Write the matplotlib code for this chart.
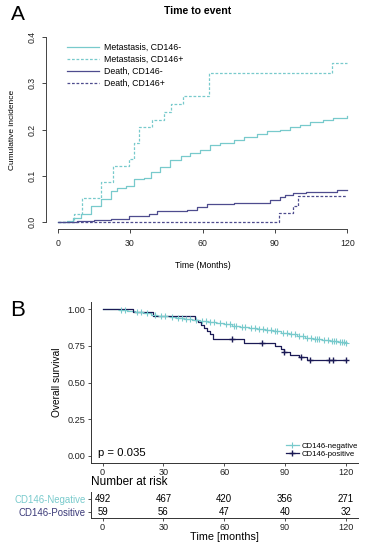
import numpy as np
import matplotlib
matplotlib.use("Agg")
import matplotlib.pyplot as plt
from matplotlib.lines import Line2D

plt.rcParams["font.family"] = ["Liberation Sans", "DejaVu Sans"]

TEAL = "#78CACC"
NAVY_A = "#4E4C8E"
NAVY_B = "#1B1A55"

# ---- Panel A: cumulative incidence (competing risks) ----
met_neg_t = [0, 4.1, 6.2, 9.6, 13.7, 17.9, 22.0, 24.7, 28.2, 31.6, 35.7, 38.5, 42.6, 46.7,
             50.9, 55.0, 59.1, 63.2, 67.4, 72.9, 77.0, 82.5, 86.6, 92.1, 96.2, 100.3,
             104.5, 110.0, 114.1, 120]
met_neg_v = [0, 0.002, 0.008, 0.017, 0.035, 0.05, 0.066, 0.072, 0.078, 0.093, 0.095, 0.108,
             0.119, 0.133, 0.142, 0.149, 0.156, 0.166, 0.17, 0.177, 0.184, 0.191, 0.197,
             0.2, 0.206, 0.21, 0.217, 0.22, 0.224, 0.23]

met_pos_t = [0, 6.9, 10.0, 17.9, 23.0, 29.6, 31.6, 33.7, 39.2, 44.0, 47.0, 51.8, 62.8, 113.7, 120]
met_pos_v = [0, 0.017, 0.052, 0.085, 0.12, 0.135, 0.17, 0.205, 0.22, 0.237, 0.255, 0.272,
             0.322, 0.344, 0.344]

death_neg_t = [0, 8, 15, 22, 29.6, 37.8, 41, 53.6, 57.7, 61.9, 72.9, 88, 92, 94.2, 97.6, 103, 115.5, 120]
death_neg_v = [0, 0.001, 0.003, 0.006, 0.012, 0.016, 0.023, 0.025, 0.031, 0.039, 0.041, 0.046,
               0.053, 0.057, 0.062, 0.064, 0.068, 0.068]

death_pos_t = [0, 91.8, 97.6, 99.7, 120]
death_pos_v = [0, 0.018, 0.035, 0.056, 0.056]

a_xticks = [0, 30, 60, 90, 120]
a_yticks = [0.0, 0.1, 0.2, 0.3, 0.4]

# ---- Panel B: Kaplan-Meier overall survival ----
neg_t = [0, 8, 12, 16, 20, 24, 27, 30, 33, 36, 40, 44, 48, 52, 56, 60, 64, 68, 72, 76, 80,
         84, 88, 92, 96, 100, 104, 108, 112, 116, 120]
neg_s = [1.0, 0.994, 0.988, 0.98, 0.972, 0.963, 0.957, 0.952, 0.946, 0.942, 0.936, 0.93,
         0.921, 0.916, 0.909, 0.9, 0.888, 0.878, 0.872, 0.864, 0.857, 0.85, 0.841, 0.829,
         0.816, 0.806, 0.798, 0.792, 0.784, 0.775, 0.767]
neg_cens = [9, 11, 17, 19, 22, 26, 29, 31, 34, 37, 39, 41, 43, 46, 49, 51, 53, 55, 58, 61,
            63, 65, 66, 69, 70, 73, 75, 77, 79, 81, 83, 85, 86, 89, 91, 93, 95, 97, 99, 101,
            103, 105, 106, 107, 109, 111, 113, 114, 115, 117, 118, 119, 120]

pos_t = [0, 15, 25, 45.5, 47, 48.5, 50, 51.5, 53, 54.5, 69.5, 85, 88, 89.5, 92.5, 97, 101, 120]
pos_s = [1.0, 0.982, 0.954, 0.93, 0.91, 0.89, 0.87, 0.85, 0.83, 0.80, 0.77, 0.748, 0.73,
         0.71, 0.69, 0.672, 0.655, 0.655]
pos_cens = [64, 78.5, 89.5, 98, 102.5, 111.5, 113.5, 120]

b_xticks = [0, 30, 60, 90, 120]
b_yticks = [0.0, 0.25, 0.5, 0.75, 1.0]
risk_neg = [492, 467, 420, 356, 271]
risk_pos = [59, 56, 47, 40, 32]

W, H = 365, 550


def fx(x):
    return x / W


def fy(y):
    return 1 - y / H


def step_at(ts, ss, c):
    i = np.searchsorted(ts, c, side="right") - 1
    return np.asarray(ss)[i]


fig = plt.figure(figsize=(W / 100, H / 100), dpi=100)
fig.patch.set_facecolor("white")

# ---------------- Panel A ----------------
axA = fig.add_axes([fx(46), fy(229), fx(359) - fx(46), (229 - 30) / H])
axA.step(met_neg_t, met_neg_v, where="post", color=TEAL, lw=0.9)
axA.step(met_pos_t, met_pos_v, where="post", color=TEAL, lw=0.9, dashes=(2.2, 1.4))
axA.step(death_neg_t, death_neg_v, where="post", color=NAVY_A, lw=0.9)
axA.step(death_pos_t, death_pos_v, where="post", color=NAVY_A, lw=0.9, dashes=(2.2, 1.4))
axA.set_xlim(-4.8, 124.8)
axA.set_ylim(-0.016, 0.416)
axA.spines["top"].set_visible(False)
axA.spines["right"].set_visible(False)
for s in ("left", "bottom"):
    axA.spines[s].set_color("#444444")
    axA.spines[s].set_linewidth(0.7)
axA.spines["bottom"].set_bounds(0, 120)
axA.spines["left"].set_bounds(0, 0.4)
axA.set_xticks(a_xticks)
axA.set_yticks(a_yticks)
axA.set_yticklabels([f"{v:.1f}" for v in a_yticks], rotation=90, va="center")
axA.tick_params(length=2.9, width=0.7, color="#444444", labelsize=6.3, pad=4.5,
                labelcolor="#222222")
axA.tick_params(axis="y", pad=4)

handles = [
    Line2D([], [], color=TEAL, lw=0.9),
    Line2D([], [], color=TEAL, lw=0.9, dashes=(2.2, 1.4)),
    Line2D([], [], color=NAVY_A, lw=0.9),
    Line2D([], [], color=NAVY_A, lw=0.9, dashes=(2.2, 1.4)),
]
labels = ["Metastasis, CD146-", "Metastasis, CD146+", "Death, CD146-", "Death, CD146+"]
axA.legend(handles, labels, loc="upper left",
           bbox_to_anchor=((67 - 46) / (359 - 46), 1 - (43 - 30) / 199),
           frameon=False, fontsize=6.3, handlelength=3.6, handletextpad=0.6,
           labelspacing=0.35, borderaxespad=0, borderpad=0)

fig.text(fx(198), fy(11), "Time to event", ha="center", va="center",
         fontsize=7.6, fontweight="bold")
fig.text(fx(18), fy(15), "A", ha="center", va="center", fontsize=15)
fig.text(fx(203), fy(265), "Time (Months)", ha="center", va="center", fontsize=6.2)
fig.text(fx(13), fy(130), "Cumulative incidence", ha="center", va="center",
         rotation=90, fontsize=6.0)

# ---------------- Panel B ----------------
fig.text(fx(18), fy(310), "B", ha="center", va="center", fontsize=16)
axB = fig.add_axes([fx(90.5), fy(463), fx(358) - fx(90.5), (463 - 302) / H])
axB.step(neg_t, neg_s, where="post", color=TEAL, lw=0.9)
axB.step(pos_t, pos_s, where="post", color=NAVY_B, lw=0.9)
axB.plot(neg_cens, [step_at(neg_t, neg_s, c) for c in neg_cens], ls="none",
         marker="+", ms=4, mew=0.8, color=TEAL)
axB.plot(pos_cens, [step_at(pos_t, pos_s, c) for c in pos_cens], ls="none",
         marker="+", ms=5, mew=1.0, color=NAVY_B)
axB.set_xlim(-6, 126)
axB.set_ylim(-0.05, 1.05)
axB.spines["top"].set_visible(False)
axB.spines["right"].set_visible(False)
for s in ("left", "bottom"):
    axB.spines[s].set_color("#333333")
    axB.spines[s].set_linewidth(0.7)
axB.set_xticks(b_xticks)
axB.set_yticks(b_yticks)
axB.set_yticklabels([f"{v:.2f}" for v in b_yticks])
axB.tick_params(length=2, width=0.6, color="#333333", labelsize=6.6, pad=1.5,
                labelcolor="#222222")
axB.set_ylabel("Overall survival", fontsize=7.3, labelpad=4)
axB.text(-2.5, 0.02, "p = 0.035", fontsize=8.2, ha="left", va="center")

legB = [
    Line2D([], [], color=TEAL, lw=0.9, marker="+", ms=4, mew=0.8),
    Line2D([], [], color=NAVY_B, lw=0.9, marker="+", ms=4, mew=1.0),
]
axB.legend(legB, ["CD146-negative", "CD146-positive"], loc="lower right",
           bbox_to_anchor=(1.0, 0.03), frameon=False, fontsize=5.6,
           handlelength=1.6, handletextpad=0.4, labelspacing=0.15,
           borderaxespad=0, borderpad=0)

# ---------------- Risk table ----------------
fig.text(fx(90.7), fy(482), "Number at risk", ha="left", va="center", fontsize=8.5)
axR = fig.add_axes([fx(90.5), fy(518.3), fx(358) - fx(90.5), (518.3 - 491.7) / H])
axR.set_xlim(-6, 126)
axR.set_ylim(0, 1)
for t, n in zip(b_xticks, risk_neg):
    axR.text(t, 0.714, str(n), ha="center", va="center", fontsize=6.9)
for t, n in zip(b_xticks, risk_pos):
    axR.text(t, 0.226, str(n), ha="center", va="center", fontsize=6.9)
axR.spines["top"].set_visible(False)
axR.spines["right"].set_visible(False)
for s in ("left", "bottom"):
    axR.spines[s].set_color("#333333")
    axR.spines[s].set_linewidth(0.7)
axR.set_xticks(b_xticks)
axR.set_yticks([0.714, 0.226])
axR.set_yticklabels(["CD146-Negative", "CD146-Positive"])
axR.tick_params(length=2, width=0.6, color="#333333", labelsize=6.6, pad=1.5,
                labelcolor="#222222")
ylabs = axR.get_yticklabels()
ylabs[0].set_color(TEAL)
ylabs[1].set_color("#3A3978")
ylabs[0].set_fontsize(6.9)
ylabs[1].set_fontsize(6.9)
fig.text(fx(224.3), fy(536.7), "Time [months]", ha="center", va="center", fontsize=7.8)

fig.savefig("out.png", dpi=100)
